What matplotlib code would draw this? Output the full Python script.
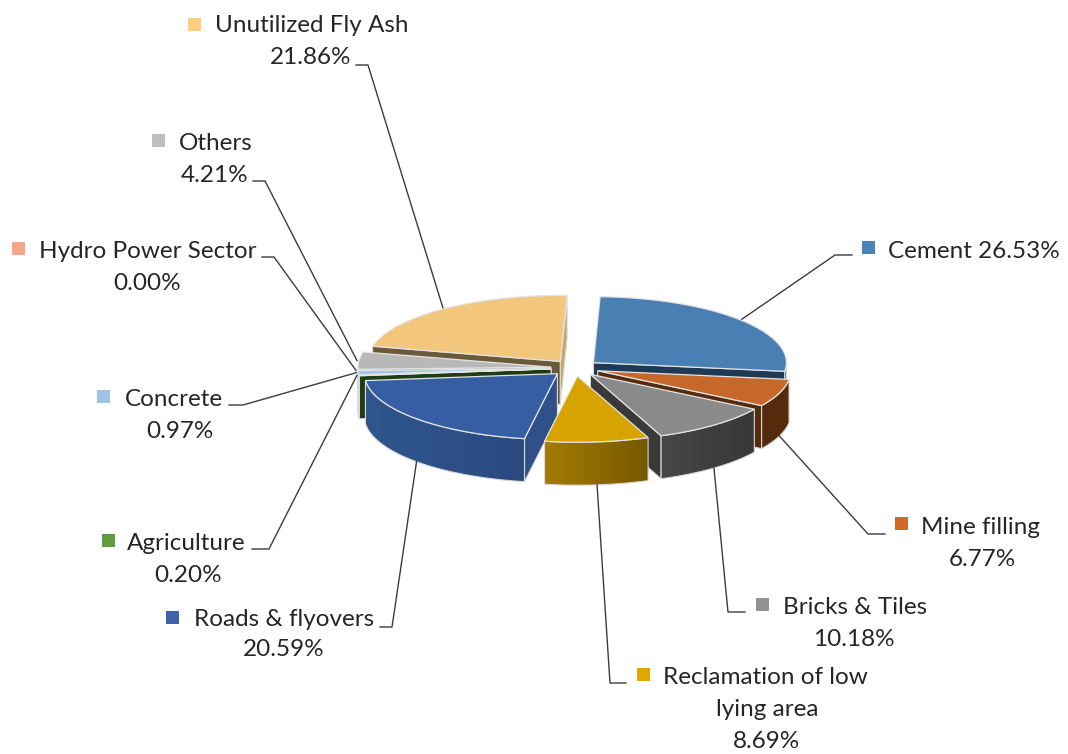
# -*- coding: utf-8 -*-
from matplotlib import pyplot as plt
from matplotlib.colors import LinearSegmentedColormap
from matplotlib.patches import Polygon, Rectangle
import numpy as np

# data, clockwise from the top
categories = ['Cement', 'Mine filling', 'Bricks & Tiles', 'Reclamation of low lying area',
              'Roads & flyovers', 'Agriculture', 'Concrete', 'Hydro Power Sector',
              'Others', 'Unutilized Fly Ash']
values = [26.53, 6.77, 10.18, 8.69, 20.59, 0.20, 0.97, 0.00, 4.21, 21.86]

# colours
top_colors = ['#4a7fb3', '#c7682b', '#8a8a8a', '#d6a300', '#365ea3',
              '#3f7a2a', '#9dc3e6', '#f4a98a', '#b8b8b8', '#f2c67d']
key_colors = ['#4a83b8', '#d06a28', '#929292', '#e0a800', '#3d63a8',
              '#5f9e3f', '#9dc3e6', '#f4a58a', '#bfbfbf', '#ffcc80']
wall_left = ['#1f3a57', '#552b0e', '#474747', '#a37c00', '#30568f',
             '#1f3d14', '#4f6f8f', '#7a4a35', '#6e6e6e', '#c6a66b']
wall_right = ['#1f3a57', '#552b0e', '#383838', '#775800', '#2a4a80',
              '#1f3d14', '#4f6f8f', '#7a4a35', '#6e6e6e', '#c6a66b']
face_colors = ['#1f3a57', '#552b0e', '#3a3a3a', '#775800', '#2f5088',
               '#1f3d14', '#e8eef6', '#7a4a35', '#6e6e6e', '#6b5a3a']
face_colors_end = {9: '#c6a66b'}

# pie layout (pixels)
cx, cy = 575, 368
rx, ry = 193, 66
depth = 43
explode = 0.125
start_angle = 2

# label layout: key position, text lines (x, y, string, ha), leader elbow
key_pos = [(868, 247), (901, 523), (762, 604), (643, 674), (172, 617),
           (108, 540), (103, 396), (18, 248), (158, 140), (194, 24)]
label_text = [
    [(888, 251, 'Cement 26.53%', 'left')],
    [(921, 528, 'Mine filling', 'left'), (982, 559, '6.77%', 'center')],
    [(783, 607, 'Bricks & Tiles', 'left'), (854, 639, '10.18%', 'center')],
    [(663, 677, 'Reclamation of low', 'left'), (767, 709, 'lying area', 'center'),
     (767, 741, '8.69%', 'center')],
    [(194, 619, 'Roads & flyovers', 'left'), (284, 650, '20.59%', 'center')],
    [(127, 543, 'Agriculture', 'left'), (188, 575, '0.20%', 'center')],
    [(125, 399, 'Concrete', 'left'), (180, 431, '0.97%', 'center')],
    [(39, 252, 'Hydro Power Sector', 'left'), (147, 283, '0.00%', 'center')],
    [(179, 143, 'Others', 'left'), (215, 175, '4.21%', 'center')],
    [(215, 26, 'Unutilized Fly Ash', 'left'), (311, 58, '21.86%', 'center')],
]
leader_start = [(852, 255), (885, 534), (745, 612), (626, 683), (380, 627),
                (252, 549), (229, 405), (262, 257), (253, 181), (356, 65)]
leader_elbow = [(835, 255), (868, 534), (728, 612), (610, 683), (392, 627),
                (269, 549), (243, 405), (274, 257), (265, 181), (368, 65)]

plt.rcParams['font.family'] = ['Lato', 'DejaVu Sans']

fig = plt.figure(figsize=(10.68, 7.54), dpi=100)
ax = fig.add_axes([0, 0, 1, 1])
ax.set_xlim(0, 1068)
ax.set_ylim(754, 0)
ax.axis('off')


def point(ox, oy, deg):
    t = np.radians(deg)
    return ox + rx * np.sin(t), oy - ry * np.cos(t)


edges = start_angle + np.concatenate([[0], np.cumsum(values)]) * 3.6 * 100 / sum(values)
mids = (edges[:-1] + edges[1:]) / 2

# back slices first
order = list(np.argsort(-np.cos(np.radians(mids))))
for i in order:
    if values[i] == 0:
        continue
    a0, a1 = edges[i], edges[i + 1]
    m = np.radians(mids[i])
    ox = cx + explode * rx * np.sin(m)
    oy = cy - explode * ry * np.cos(m)
    z = 2 + 0.1 * order.index(i)

    # cut faces that look towards the viewer
    for a, col in ((a0, face_colors[i]), (a1, face_colors_end.get(i, face_colors[i]))):
        a_mod = a % 360
        visible = (a == a0 and 180 < a_mod < 360) or (a == a1 and 0 < a_mod < 180)
        if visible:
            x, y = point(ox, oy, a)
            ax.add_patch(Polygon([(ox, oy), (x, y), (x, y + depth), (ox, oy + depth)],
                                 closed=True, fc=col, ec='#d9d9d9', lw=0.8, zorder=z))

    # outer wall with a left to right gradient
    w0, w1 = max(a0, 90), min(a1, 270)
    if w1 > w0:
        steps = np.linspace(w0, w1, 40)
        xs, ys = point(ox, oy, steps)
        wall = Polygon(list(zip(xs, ys)) + list(zip(xs[::-1], ys[::-1] + depth)),
                       closed=True, fc='none', ec='#d9d9d9', lw=0.8, zorder=z + 0.02)
        ax.add_patch(wall)
        cmap = LinearSegmentedColormap.from_list('w', [wall_left[i], wall_right[i]])
        im = ax.imshow(np.linspace(0, 1, 64).reshape(1, -1), cmap=cmap, aspect='auto',
                       extent=(xs.min(), xs.max(), ys.max() + depth, ys.min()),
                       zorder=z + 0.01, interpolation='bilinear')
        im.set_clip_path(wall)

    # top
    arc = np.linspace(a0, a1, 60)
    xs, ys = point(ox, oy, arc)
    pts = [(ox, oy)] + list(zip(xs, ys))
    ax.add_patch(Polygon(pts, closed=True, fc=top_colors[i], ec='#e4e4e4', lw=0.9, zorder=z + 0.03))

ax.set_xlim(0, 1068)
ax.set_ylim(754, 0)

# labels, keys and leaders
for i in range(len(categories)):
    kx, ky = key_pos[i]
    ax.add_patch(Rectangle((kx - 6.5, ky - 6.5), 13, 13, fc=key_colors[i], ec='none', zorder=6))
    for tx, ty, s, ha in label_text[i]:
        ax.text(tx, ty, s, ha=ha, va='center', fontsize=17.5, color='#262626', zorder=6)

    m = np.radians(mids[i])
    ox = cx + explode * rx * np.sin(m)
    oy = cy - explode * ry * np.cos(m)
    ex, ey = point(ox, oy, mids[i])
    if np.cos(m) < -0.2:
        ey += depth
    if abs(np.cos(m)) < 0.2:
        ex -= 2
    ax.plot([leader_start[i][0], leader_elbow[i][0], ex],
            [leader_start[i][1], leader_elbow[i][1], ey],
            color='#3c3c3c', lw=1.0, zorder=1.5 if np.cos(m) > 0 else 5)

fig.savefig('out.png', dpi=100)
